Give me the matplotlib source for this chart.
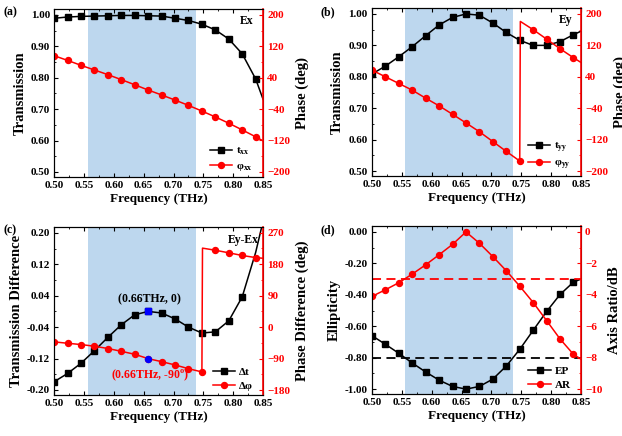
import numpy as np
import matplotlib.pyplot as plt
from matplotlib.ticker import AutoMinorLocator

plt.rcParams['font.family'] = ['Liberation Serif', 'DejaVu Serif']
plt.rcParams['font.weight'] = 'bold'
plt.rcParams['mathtext.fontset'] = 'custom'
plt.rcParams['mathtext.rm'] = 'Liberation Serif:bold'
plt.rcParams['mathtext.bf'] = 'Liberation Serif:bold'
plt.rcParams['mathtext.it'] = 'Liberation Serif:bold'

# sampled frequencies (THz)
freq = [0.5, 0.5225, 0.545, 0.5675, 0.59, 0.6125, 0.635, 0.6575,
        0.68, 0.7025, 0.725, 0.7475, 0.77, 0.7925, 0.815, 0.8375]
f_end = 0.85
f_jump = 0.7485

# (a) Ex
t_xx = [0.989, 0.993, 0.995, 0.996, 0.997, 0.998, 0.998, 0.997,
        0.996, 0.989, 0.982, 0.970, 0.952, 0.923, 0.876, 0.796]
t_xx_end = 0.731
phi_xx = [96, 84, 71.5, 59.6, 47.7, 35, 22, 8.5,
          -4, -17, -30.6, -45, -60, -76, -93, -110.6]
phi_xx_end = -121

# (b) Ey
t_yy = [0.809, 0.834, 0.864, 0.896, 0.931, 0.965, 0.989, 1.0,
        0.996, 0.971, 0.941, 0.916, 0.900, 0.900, 0.912, 0.934]
t_yy_end = 0.945
phi_yy = [57, 40, 23, 6, -14.5, -34, -55.5, -77.5,
          -100, -125, -150, -174.5, 160, 136, 111.5, 88.5]
phi_yy_jump = 181
phi_yy_end = 76.6

# (c) Ey-Ex
dt = [-0.179, -0.158, -0.132, -0.100, -0.066, -0.034, -0.0085, 0.0,
      -0.004, -0.019, -0.040, -0.055, -0.052, -0.024, 0.037, 0.15]
dt_end = 0.23
dphi = [-42, -46, -49.7, -54.5, -61, -69, -77.5, -90,
        -98.6, -108, -118.7, -128, 220, 212.6, 205, 199]
dphi_jump = 226
dphi_end = 197

# (d) ellipticity and axis ratio
ep = [-0.660, -0.715, -0.772, -0.834, -0.891, -0.943, -0.983, -1.0,
      -0.983, -0.936, -0.853, -0.747, -0.626, -0.506, -0.398, -0.319]
ep_end = -0.300
ar = [-4.1, -3.68, -3.23, -2.68, -2.09, -1.45, -0.79, 0.0,
      -0.72, -1.57, -2.47, -3.45, -4.49, -5.64, -6.81, -7.79]
ar_end = -8.09

band = (0.556, 0.737)
RED = '#ff0000'
SHADE = '#bdd7ee'
TICK_FS = 8
XLABEL_FS = 9.5
YLABEL_FS = 10.5


def with_end(vals, end):
    return list(freq) + [f_end], list(vals) + [end]


def with_jump(vals, jump, end):
    x = freq[:12] + [f_jump] + freq[12:] + [f_end]
    y = list(vals[:12]) + [jump] + list(vals[12:]) + [end]
    marks = list(range(12)) + list(range(13, 17))
    return x, y, marks


def setup(ax, ax2, ylim, yticks, ylim2, yticks2, ylabel, ylabel2, tag, pos):
    ax.set_position(pos)
    ax.axvspan(band[0], band[1], color=SHADE, lw=0, zorder=0)
    ax.set_xlim(0.5, 0.85)
    ax.set_xticks(np.arange(0.5, 0.851, 0.05))
    ax.set_xticklabels(['%.2f' % v for v in np.arange(0.5, 0.851, 0.05)])
    ax.xaxis.set_minor_locator(AutoMinorLocator(2))
    ax.set_ylim(*ylim)
    ax.set_yticks(yticks)
    ax.yaxis.set_major_formatter(plt.FormatStrFormatter('%.2f'))
    ax.yaxis.set_minor_locator(AutoMinorLocator(2))
    ax.tick_params(which='both', direction='in', top=True, right=False,
                   labelsize=TICK_FS, pad=3)
    ax.tick_params(which='major', length=3)
    ax.tick_params(which='minor', length=1.5)
    ax.set_xlabel('Frequency (THz)', fontsize=XLABEL_FS, fontweight='bold', labelpad=2)
    ax.set_ylabel(ylabel, fontsize=YLABEL_FS, fontweight='bold', labelpad=3)
    ax2.set_ylim(*ylim2)
    ax2.set_yticks(yticks2)
    ax2.yaxis.set_minor_locator(AutoMinorLocator(2))
    ax2.tick_params(which='both', direction='in', colors=RED, labelsize=TICK_FS, pad=3)
    ax2.tick_params(which='major', length=3)
    ax2.tick_params(which='minor', length=1.5)
    ax2.spines['right'].set_color(RED)
    ax2.spines['right'].set_linewidth(1.2)
    ax2.set_ylabel(ylabel2, fontsize=YLABEL_FS, fontweight='bold', labelpad=4)
    for lab in ax.get_xticklabels() + ax.get_yticklabels() + ax2.get_yticklabels():
        lab.set_fontweight('bold')
    ax.figure.text(pos[0] - 0.082, pos[1] + pos[3] - 0.015, tag,
                   fontsize=8.5, fontweight='bold')


def legend(ax2, l1, l2):
    ax2.legend([l1, l2], [l1.get_label(), l2.get_label()], loc='lower right',
               frameon=False, fontsize=8, handlelength=2, borderaxespad=0.3,
               labelspacing=0.35, handletextpad=0.4, bbox_to_anchor=(0.99, -0.02))


fig = plt.figure(figsize=(6.22, 4.36), dpi=100)

W, H = 0.336, 0.385
pos_a = [0.087, 0.594, W, H]
pos_b = [0.598, 0.596, W, H]
pos_c = [0.087, 0.094, W, H]
pos_d = [0.598, 0.096, W, H]

mk_sq = dict(marker='s', markersize=3.8)
mk_ci = dict(marker='o', markersize=4.3)
LW = 1.1

# ---- (a)
ax = fig.add_subplot(2, 2, 1)
ax2 = ax.twinx()
x, y = with_end(t_xx, t_xx_end)
l1, = ax.plot(x, y, color='k', lw=LW, markevery=list(range(16)), **mk_sq, label='t$_{xx}$')
x, y = with_end(phi_xx, phi_xx_end)
l2, = ax2.plot(x, y, color=RED, lw=LW, markevery=list(range(16)), **mk_ci, label='φ$_{xx}$')
setup(ax, ax2, (0.484, 1.018), [0.5, 0.6, 0.7, 0.8, 0.9, 1.0], (-213, 214.5),
      [-200, -120, -40, 40, 120, 200], 'Transmission', 'Phase (deg)', '(a)', pos_a)
ax.text(0.923, 0.93, 'Ex', transform=ax.transAxes, ha='center', va='center',
        fontsize=8.5, fontweight='bold')
legend(ax2, l1, l2)

# ---- (b)
ax = fig.add_subplot(2, 2, 2)
ax2 = ax.twinx()
x, y = with_end(t_yy, t_yy_end)
l1, = ax.plot(x, y, color='k', lw=LW, markevery=list(range(16)), **mk_sq, label='t$_{yy}$')
x, y, m = with_jump(phi_yy, phi_yy_jump, phi_yy_end)
l2, = ax2.plot(x, y, color=RED, lw=LW, markevery=m, **mk_ci, label='φ$_{yy}$')
setup(ax, ax2, (0.484, 1.018), [0.5, 0.6, 0.7, 0.8, 0.9, 1.0], (-213, 214.5),
      [-200, -120, -40, 40, 120, 200], 'Transmission', 'Phase (deg)', '(b)', pos_b)
ax.text(0.925, 0.93, 'Ey', transform=ax.transAxes, ha='center', va='center',
        fontsize=8.5, fontweight='bold')
legend(ax2, l1, l2)

# ---- (c)
ax = fig.add_subplot(2, 2, 3)
ax2 = ax.twinx()
x, y = with_end(dt, dt_end)
l1, = ax.plot(x, y, color='k', lw=LW, markevery=list(range(15)), **mk_sq, label='Δt')
x, y, m = with_jump(dphi, dphi_jump, dphi_end)
l2, = ax2.plot(x, y, color=RED, lw=LW, markevery=m, **mk_ci, label='Δφ')
ax.plot(freq[7], dt[7], 's', color='#0000ff', markersize=3.8, zorder=5)
ax2.plot(freq[7], dphi[7], 'o', color='#0000ff', markersize=4.3, zorder=5)
setup(ax, ax2, (-0.2128, 0.2145), [-0.20, -0.12, -0.04, 0.04, 0.12, 0.20], (-194, 286),
      [-180, -90, 0, 90, 180, 270], 'Transmission Difference', 'Phase Difference (deg)',
      '(c)', pos_c)
ax.text(0.66, 0.03, '(0.66THz, 0)', ha='center', va='center', fontsize=8.5,
        fontweight='bold')
ax2.text(0.66, -139, '(0.66THz, -90$^{o}$)', ha='center', va='center', fontsize=8.5,
         fontweight='bold', color=RED)
ax.text(0.904, 0.926, 'Ey-Ex', transform=ax.transAxes, ha='center', va='center',
        fontsize=8.5, fontweight='bold')
legend(ax2, l1, l2)

# ---- (d)
ax = fig.add_subplot(2, 2, 4)
ax2 = ax.twinx()
x, y = with_end(ep, ep_end)
l1, = ax.plot(x, y, color='k', lw=LW, markevery=list(range(16)), **mk_sq, label='EP')
x, y = with_end(ar, ar_end)
l2, = ax2.plot(x, y, color=RED, lw=LW, markevery=list(range(16)), **mk_ci, label='AR')
ax.axhline(-0.8, color='k', lw=1.3, ls=(0, (5, 3)))
ax2.axhline(-3, color=RED, lw=1.3, ls=(0, (5, 3)))
setup(ax, ax2, (-1.032, 0.036), [-1.0, -0.8, -0.6, -0.4, -0.2, 0.0], (-10.32, 0.36),
      [-10, -8, -6, -4, -2, 0], 'Ellipticity', 'Axis Ratio/dB', '(d)', pos_d)
legend(ax2, l1, l2)

fig.savefig('out.png', dpi=100)
